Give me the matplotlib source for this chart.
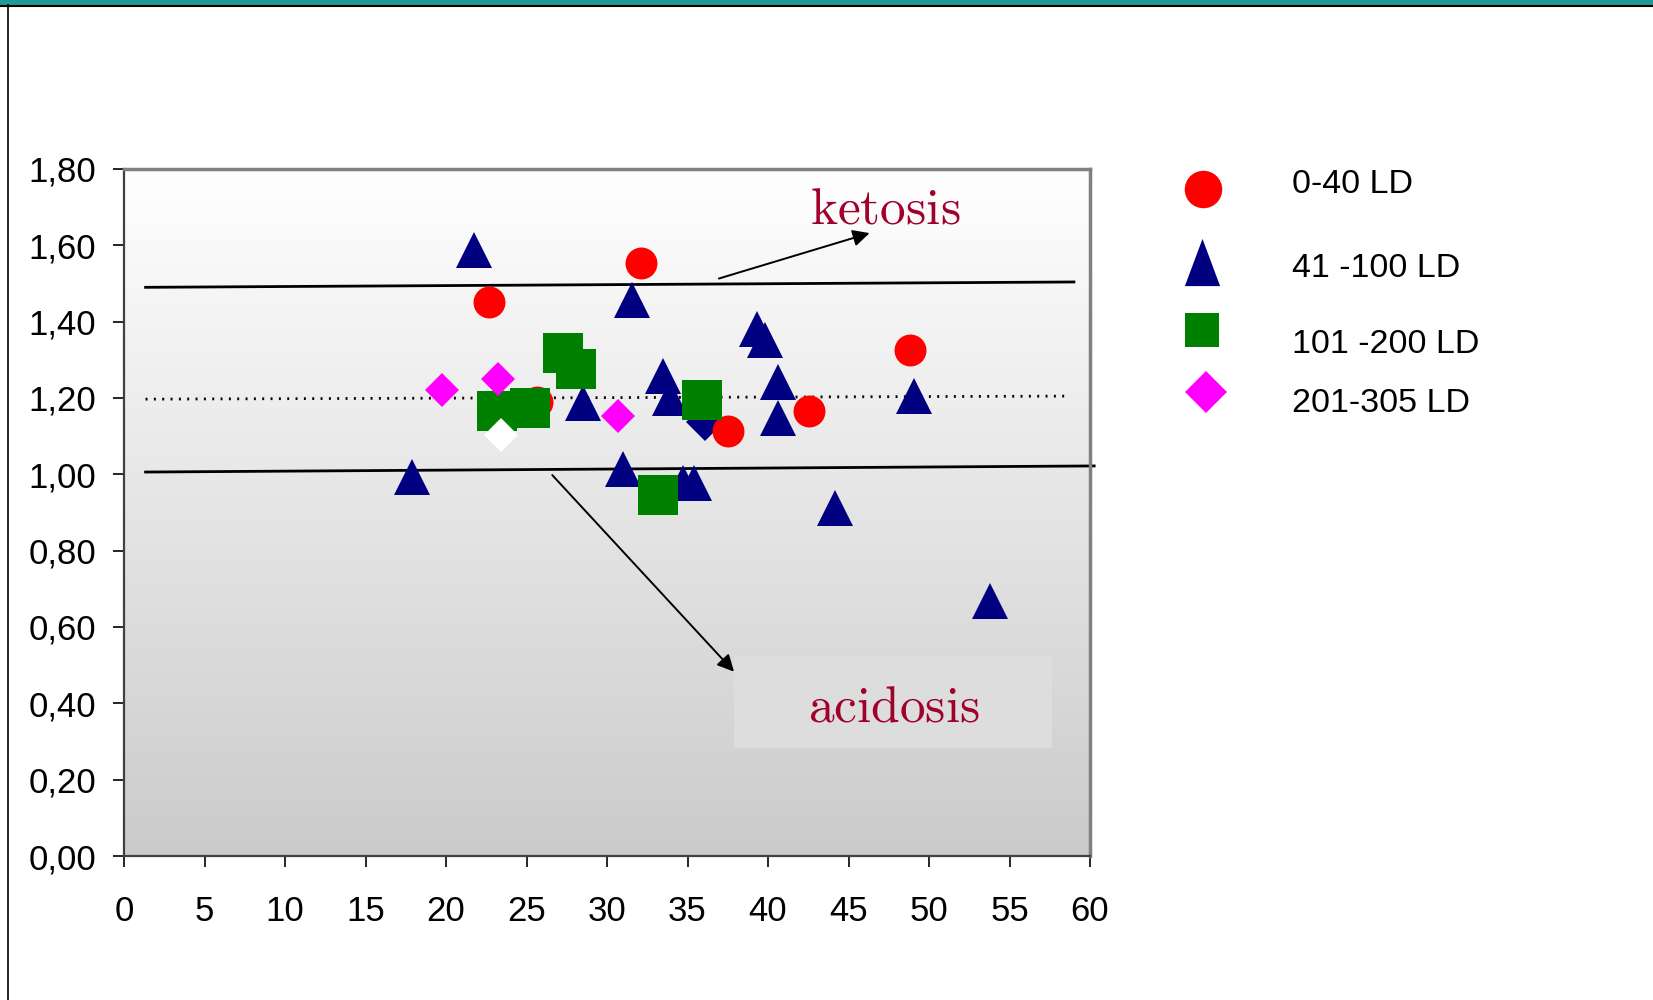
import numpy as np
import matplotlib
matplotlib.use("Agg")
import matplotlib.pyplot as plt
from matplotlib.colors import LinearSegmentedColormap
from matplotlib.lines import Line2D
from matplotlib.patches import Rectangle
from matplotlib.ticker import FuncFormatter

plt.rcParams['font.family'] = ['Liberation Sans', 'DejaVu Sans']
plt.rcParams['mathtext.fontset'] = 'cm'

# data
ld_0_40_x = [22.67, 32.11, 25.66, 37.54, 42.57, 48.82]
ld_0_40_y = [1.452, 1.555, 1.190, 1.113, 1.166, 1.327]

ld_41_100_x = [21.74, 31.53, 39.30, 39.81, 28.49, 33.46, 33.90, 40.64, 40.64,
               49.07, 31.01, 34.74, 35.40, 44.18, 53.79, 17.87]
ld_41_100_y = [1.589, 1.456, 1.382, 1.353, 1.187, 1.257, 1.199, 1.242, 1.147,
               1.205, 1.014, 0.977, 0.977, 0.912, 0.668, 0.992]

ld_101_200_x = [27.24, 28.10, 23.17, 25.24, 35.87, 33.14]
ld_101_200_y = [1.319, 1.275, 1.165, 1.173, 1.194, 0.945]

ld_201_305_x = [19.73, 23.25, 30.68]
ld_201_305_y = [1.220, 1.249, 1.153]

# odd single points
navy_diamond_x = [36.10]
navy_diamond_y = [1.137]
white_diamond_x = [23.44]
white_diamond_y = [1.103]

# reference lines (start, end)
upper_x, upper_y = [1.34, 59.0], [1.490, 1.504]
mid_x, mid_y = [1.34, 58.76], [1.197, 1.205]
lower_x, lower_y = [1.34, 60.26], [1.006, 1.022]

labels = ['0-40 LD', '41 -100 LD', '101 -200 LD', '201-305 LD']

fig = plt.figure(figsize=(16.53, 10), dpi=100)

# slide frame
fig.add_artist(Rectangle((0, 0.995), 1, 0.005, transform=fig.transFigure,
                         color='#1e9a96', lw=0))
fig.add_artist(Line2D([0, 1], [0.9945, 0.9945], transform=fig.transFigure,
                      color='black', lw=1.5))
fig.add_artist(Line2D([0.0051, 0.0051], [0, 0.995], transform=fig.transFigure,
                      color='black', lw=1.2))

ax = fig.add_axes([124 / 1653, 1 - 856 / 1000, (1090 - 124) / 1653, (856 - 169) / 1000])
ax.set_xlim(0, 60)
ax.set_ylim(0, 1.8)

grad = np.linspace(0, 1, 256).reshape(-1, 1)
cmap = LinearSegmentedColormap.from_list('bg', ['#ffffff', '#cbcbcb'])
ax.imshow(grad, extent=[0, 60, 0, 1.8], aspect='auto', cmap=cmap,
          origin='upper', zorder=0)

ax.plot(upper_x, upper_y, color='black', lw=2.0, zorder=2, clip_on=False)
ax.plot(mid_x, mid_y, color='black', lw=2.0, ls=(0, (0.7, 2.3)), zorder=2)
ax.plot(lower_x, lower_y, color='black', lw=2.0, zorder=2, clip_on=False)

ax.plot(navy_diamond_x, navy_diamond_y, 'D', color='#000080', ms=19, mew=0, zorder=3)
ax.plot(ld_0_40_x, ld_0_40_y, 'o', color='#ff0000', ms=23, mew=0, zorder=4)
ax.plot(ld_41_100_x, ld_41_100_y, '^', color='#000080', ms=25.5, mew=0, zorder=5)
ax.plot(ld_101_200_x, ld_101_200_y, 's', color='#008000', ms=29, mew=0, zorder=6)
ax.plot(ld_201_305_x, ld_201_305_y, 'D', color='#ff00ff', ms=17.8, mew=0, zorder=7)
ax.plot(white_diamond_x, white_diamond_y, 'D', color='#ffffff', ms=17.8, mew=0, zorder=8)

# annotations
ax.annotate('', xy=(46.31, 1.632), xytext=(36.95, 1.513),
            arrowprops=dict(arrowstyle='-|>', color='black', lw=1.4,
                            mutation_scale=25, shrinkA=0, shrinkB=0), zorder=9)
ax.annotate('', xy=(37.89, 0.483), xytext=(26.6, 0.998),
            arrowprops=dict(arrowstyle='-|>', color='black', lw=1.4,
                            mutation_scale=25, shrinkA=0, shrinkB=0), zorder=9)
ax.add_patch(Rectangle((37.89, 0.284), 57.62 - 37.89, 0.524 - 0.284,
                       facecolor='#dddddd', edgecolor='none', zorder=8))
ax.text(47.27, 1.657, r'$\mathrm{ketosis}$', color='#a0002a', fontsize=37,
        ha='center', va='baseline', zorder=10)
ax.text(47.8, 0.352, r'$\mathrm{acidosis}$', color='#a0002a', fontsize=37,
        ha='center', va='baseline', zorder=10)

ax.set_xticks(range(0, 61, 5))
ax.set_yticks(np.arange(0, 1.81, 0.2))
ax.yaxis.set_major_formatter(FuncFormatter(lambda v, p: f'{v:.2f}'.replace('.', ',')))
ax.tick_params(axis='x', direction='out', length=8, width=1.2, pad=20, labelsize=25)
ax.tick_params(axis='y', direction='out', length=8, width=1.2, pad=12, labelsize=25)

for side in ['top', 'right']:
    ax.spines[side].set_color('#808080')
    ax.spines[side].set_linewidth(2.5)
for side in ['left', 'bottom']:
    ax.spines[side].set_color('#404040')
    ax.spines[side].set_linewidth(1.6)

# legend drawn by hand
leg_marker = [('o', '#ff0000', 27), ([(0, 0.67), (-0.5, -0.67), (0.5, -0.67)], '#000080', 34),
              ('s', '#008000', 24.5), ('D', '#ff00ff', 21.5)]
leg_mx = [1202.7, 1201.7, 1201.7, 1205.7]
leg_my = [189, 262, 330, 392]
leg_ty = [193.3, 276.7, 353.3, 411.5]
for (m, c, s), mx, my, ty, lab in zip(leg_marker, leg_mx, leg_my, leg_ty, labels):
    fig.add_artist(Line2D([mx / 1653], [1 - my / 1000], transform=fig.transFigure,
                          marker=m, color=c, ms=s, mew=0, ls='none'))
    fig.text(1292 / 1653, 1 - ty / 1000, lab, fontsize=24.5, va='baseline', ha='left')

fig.savefig('out.png', dpi=100)
